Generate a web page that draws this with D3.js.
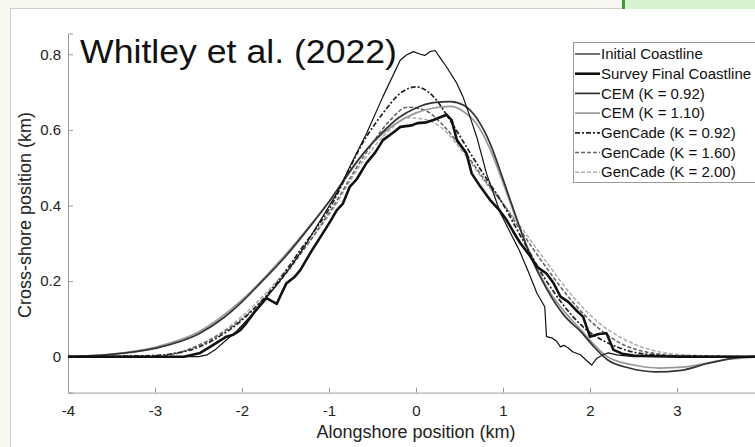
<!DOCTYPE html>
<html>
<head>
<meta charset="utf-8">
<script src="https://cdn.jsdelivr.net/npm/d3@7"></script>
<style>
  body { margin: 0; background: #f7f7ef; }
  svg { display: block; font-family: Arial, "Liberation Sans", sans-serif; }
</style>
</head>
<body>
<svg width="755" height="447"></svg>
<script>
// values (km)
const initialCoast = [[-4,0],[-3,0],[-2.5,0],[-2.4,0.005],[-2.3,0.02],[-2.2,0.04],[-2.05,0.07],[-1.9,0.108],[-1.75,0.148],[-1.6,0.19],[-1.45,0.235],[-1.3,0.285],[-1.1,0.36],[-0.91,0.432],[-0.76,0.503],[-0.57,0.59],[-0.38,0.688],[-0.18,0.785],[-0.11,0.798],[-0.03,0.807],[0.05,0.8],[0.1,0.797],[0.16,0.807],[0.22,0.81],[0.28,0.79],[0.35,0.767],[0.47,0.723],[0.54,0.688],[0.62,0.635],[0.7,0.58],[0.81,0.485],[0.97,0.38],[1.08,0.33],[1.19,0.28],[1.3,0.22],[1.39,0.168],[1.48,0.132],[1.5,0.053],[1.56,0.05],[1.62,0.04],[1.66,0.026],[1.7,0.03],[1.75,0.023],[1.8,0.013],[1.89,0.005],[1.96,-0.01],[2.02,-0.022],[2.08,-0.004],[2.15,0.005],[2.21,0.01],[2.31,0.005],[2.5,0],[4,0]];

const surveyFinal = [[-4,0],[-3,0],[-2.67,0],[-2.48,0.01],[-2.33,0.031],[-2.18,0.053],[-2.1,0.058],[-2.02,0.07],[-1.95,0.089],[-1.85,0.12],[-1.72,0.155],[-1.6,0.14],[-1.55,0.165],[-1.49,0.194],[-1.4,0.21],[-1.33,0.229],[-1.2,0.28],[-1.07,0.327],[-0.98,0.36],[-0.91,0.388],[-0.84,0.405],[-0.76,0.45],[-0.68,0.47],[-0.57,0.512],[-0.47,0.54],[-0.38,0.573],[-0.25,0.595],[-0.18,0.608],[-0.05,0.612],[0.02,0.618],[0.12,0.62],[0.2,0.626],[0.35,0.64],[0.41,0.626],[0.47,0.573],[0.58,0.538],[0.64,0.485],[0.74,0.45],[0.85,0.415],[0.95,0.39],[1.04,0.362],[1.12,0.33],[1.2,0.3],[1.3,0.27],[1.39,0.238],[1.5,0.22],[1.58,0.195],[1.66,0.159],[1.75,0.145],[1.84,0.123],[1.92,0.106],[2.0,0.053],[2.1,0.06],[2.19,0.062],[2.27,0.018],[2.37,0.008],[2.5,0.003],[3,0],[4,0]];

const cem092 = [[-4,0],[-3.5,0.006],[-3,0.022],[-2.5,0.06],[-2.2,0.105],[-2,0.145],[-1.8,0.192],[-1.5,0.265],[-1.2,0.35],[-1,0.41],[-0.7,0.51],[-0.4,0.59],[-0.2,0.632],[0,0.658],[0.2,0.672],[0.4,0.675],[0.55,0.665],[0.7,0.63],[0.85,0.565],[1.0,0.47],[1.15,0.37],[1.3,0.275],[1.5,0.18],[1.7,0.11],[1.9,0.065],[2.05,0.025],[2.2,-0.008],[2.45,-0.03],[2.75,-0.04],[3.05,-0.036],[3.35,-0.018],[3.65,-0.004],[4,0.002]];

const cem110 = [[-4,0],[-3.5,0.007],[-3,0.025],[-2.5,0.065],[-2,0.15],[-1.5,0.27],[-1,0.41],[-0.5,0.565],[0,0.645],[0.2,0.658],[0.4,0.662],[0.55,0.648],[0.7,0.615],[0.85,0.55],[1.0,0.46],[1.2,0.335],[1.5,0.185],[1.9,0.07],[2.2,0.0],[2.5,-0.022],[2.8,-0.03],[3.1,-0.027],[3.5,-0.01],[4,0]];

const gen092 = [[-4,0],[-3,0.003],[-2.8,0.008],[-2.5,0.025],[-2.33,0.044],[-2.0,0.097],[-1.6,0.195],[-1.33,0.282],[-1.0,0.39],[-0.57,0.582],[-0.38,0.644],[-0.18,0.697],[0,0.714],[0.2,0.688],[0.39,0.626],[0.58,0.555],[0.77,0.485],[0.97,0.415],[1.2,0.32],[1.5,0.2],[1.92,0.079],[2.31,0.026],[2.6,0.008],[3,0.002],[4,0]];

const gen160 = [[-4,0],[-2.9,0.003],[-2.5,0.03],[-2,0.1],[-1.6,0.19],[-1.3,0.28],[-1,0.38],[-0.6,0.53],[-0.3,0.625],[-0.1,0.66],[0.1,0.652],[0.3,0.615],[0.5,0.56],[0.8,0.465],[1.0,0.405],[1.2,0.335],[1.5,0.235],[1.8,0.145],[2.1,0.075],[2.4,0.03],[2.7,0.01],[3.0,0.003],[4,0]];

const gen200 = [[-4,0],[-3.0,0.003],[-2.6,0.02],[-2.2,0.07],[-1.8,0.15],[-1.4,0.255],[-1,0.375],[-0.6,0.52],[-0.3,0.6],[-0.1,0.632],[0.1,0.628],[0.28,0.608],[0.58,0.529],[0.8,0.46],[1.0,0.405],[1.2,0.345],[1.5,0.25],[1.8,0.16],[2.1,0.09],[2.4,0.045],[2.7,0.018],[3.0,0.006],[3.4,0.002],[4,0]];

const seriesNames = ["Initial Coastline", "Survey Final Coastline", "CEM (K = 0.92)", "CEM (K = 1.10)",
  "GenCade (K = 0.92)", "GenCade (K = 1.60)", "GenCade (K = 2.00)"];
const xTicks = [-4, -3, -2, -1, 0, 1, 2, 3];
const yTicks = [0, 0.2, 0.4, 0.6, 0.8];

const series = [
  { name: seriesNames[0], data: initialCoast, color: "#111", width: 1.2, dash: null, jag: true },
  { name: seriesNames[1], data: surveyFinal, color: "#111", width: 2.6, dash: null, jag: true },
  { name: seriesNames[2], data: cem092, color: "#333", width: 1.7, dash: null },
  { name: seriesNames[3], data: cem110, color: "#999", width: 1.7, dash: null },
  { name: seriesNames[4], data: gen092, color: "#222", width: 1.7, dash: "5,2,2,2" },
  { name: seriesNames[5], data: gen160, color: "#666", width: 1.6, dash: "4,2" },
  { name: seriesNames[6], data: gen200, color: "#b0b0b0", width: 1.6, dash: "4,2" }
];

const svg = d3.select("svg");

// page background pieces
svg.append("rect").attr("x", 0).attr("y", 0).attr("width", 755).attr("height", 447).attr("fill", "#f7f7ef");
svg.append("rect").attr("x", 10.5).attr("y", 8.5).attr("width", 760).attr("height", 450)
  .attr("fill", "#fff").attr("stroke", "#cfcfc6");
svg.append("rect").attr("x", 622).attr("y", 0).attr("width", 140).attr("height", 9).attr("fill", "#d8f3cf");
svg.append("rect").attr("x", 622).attr("y", 0).attr("width", 3).attr("height", 9).attr("fill", "#3f9a3a");

const x = d3.scaleLinear().domain([-4, 4]).range([68, 764]);
const y = d3.scaleLinear().domain([-0.095, 0.855]).range([392.6, 33.5]);

// axes (MATLAB style, ticks inward, plain hyphen minus)
const xAxis = svg.append("g").attr("transform", "translate(0,392.6)")
  .call(d3.axisBottom(x).tickValues(xTicks).tickSize(-5).tickPadding(10).tickFormat(d => String(d)));
const yAxis = svg.append("g").attr("transform", "translate(68,0)")
  .call(d3.axisLeft(y).tickValues(yTicks).tickSize(-5).tickPadding(7).tickFormat(d => d === 0 ? "0" : d.toFixed(1)));
[xAxis, yAxis].forEach(g => {
  g.select(".domain").attr("stroke", "#9a9a9a");
  g.selectAll(".tick line").attr("stroke", "#9a9a9a");
  g.selectAll(".tick text").attr("fill", "#222").attr("font-size", 15)
    .attr("font-family", "Arial, 'Liberation Sans', sans-serif");
});
xAxis.selectAll(".tick text").attr("dy", "0.9em");

svg.append("text").attr("x", x(0)).attr("y", 438).attr("text-anchor", "middle")
  .attr("font-size", 18).attr("fill", "#222").text("Alongshore position (km)");
svg.append("text").attr("transform", "translate(31,215) rotate(-90)").attr("text-anchor", "middle")
  .attr("font-size", 18).attr("fill", "#222").text("Cross-shore position (km)");

// curves, drawn back to front
const lineSmooth = d3.line().x(d => x(d[0])).y(d => y(d[1])).curve(d3.curveMonotoneX);
const lineJag = d3.line().x(d => x(d[0])).y(d => y(d[1]));
const drawOrder = [6, 5, 3, 2, 4, 0, 1];
svg.append("g").selectAll("path")
  .data(drawOrder.map(i => series[i]))
  .join("path")
  .attr("d", d => (d.jag ? lineJag : lineSmooth)(d.data))
  .attr("fill", "none")
  .attr("stroke", d => d.color)
  .attr("stroke-width", d => d.width)
  .attr("stroke-dasharray", d => d.dash)
  .attr("stroke-linejoin", "round");

// title
svg.append("text").attr("x", 80).attr("y", 63).attr("font-size", 33).attr("fill", "#111")
  .attr("textLength", 317).attr("lengthAdjust", "spacingAndGlyphs").text("Whitley et al. (2022)");

// legend
const lg = svg.append("g");
lg.append("rect").attr("x", 573.5).attr("y", 42.5).attr("width", 200).attr("height", 140)
  .attr("fill", "#fff").attr("stroke", "#9a9a9a");
const items = lg.selectAll("g.item").data(series).join("g").attr("class", "item")
  .attr("transform", (d, i) => `translate(0,${54 + i * 19.7})`);
items.append("line").attr("x1", 575).attr("x2", 600).attr("y1", 0).attr("y2", 0)
  .attr("stroke", d => d.color).attr("stroke-width", d => d.width)
  .attr("stroke-dasharray", d => d.dash);
items.append("text").attr("x", 601).attr("y", 0).attr("dy", "0.35em")
  .attr("font-size", 15).attr("fill", "#111").text(d => d.name);
</script>
</body>
</html>
